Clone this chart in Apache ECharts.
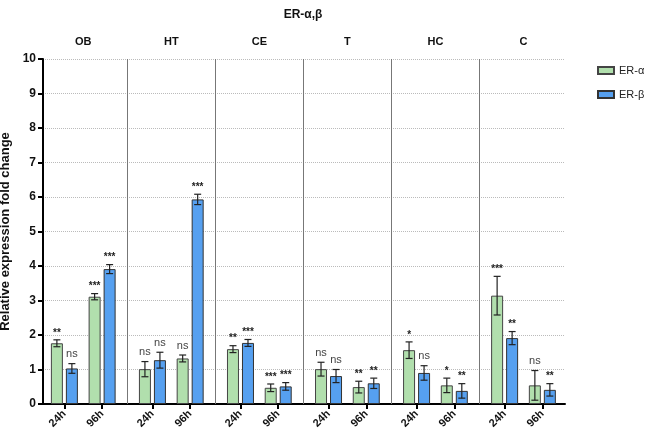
<!DOCTYPE html>
<html>
<head>
<meta charset="utf-8">
<script src="https://cdn.jsdelivr.net/npm/echarts@6/dist/echarts.min.js"></script>
<style>
html,body{margin:0;padding:0;background:#fff;}
#main{width:649px;height:437px;}
</style>
</head>
<body>
<div id="main"></div>
<script>
// groups and time points
var groups = ['OB', 'HT', 'CE', 'T', 'HC', 'C'];
var times = ['24h', '96h'];
// values read in order OB 24h, OB 96h, HT 24h, ...
var alphaMean = [1.76, 3.11, 1.01, 1.32, 1.59, 0.47, 1.01, 0.49, 1.56, 0.54, 3.14, 0.54];
var alphaSd   = [0.10, 0.09, 0.22, 0.10, 0.10, 0.11, 0.20, 0.17, 0.24, 0.21, 0.56, 0.43];
var betaMean  = [1.03, 3.91, 1.27, 5.93, 1.77, 0.51, 0.81, 0.60, 0.90, 0.38, 1.91, 0.41];
var betaSd    = [0.14, 0.13, 0.23, 0.15, 0.10, 0.11, 0.19, 0.15, 0.21, 0.21, 0.19, 0.18];
var alphaSig  = ['**', '***', 'ns', 'ns', '**', '***', 'ns', '**', '*', '*', '***', 'ns'];
var betaSig   = ['ns', '***', 'ns', '***', '***', '***', 'ns', '**', 'ns', '**', '**', '**'];
var yTicks = [0, 1, 2, 3, 4, 5, 6, 7, 8, 9, 10];

var FONT = 'Arial, "Liberation Sans", sans-serif';

// x positions: 7 units per group, 24h at 0, 96h at 3
var pos = [];
var posLabel = [];
groups.forEach(function(g, gi){
	times.forEach(function(t, ti){
		pos.push(gi * 7 + ti * 3);
		posLabel.push(t);
	});
});
var groupCenters = groups.map(function(g, gi){ return gi * 7 + 1.5; });
var separators = groups.slice(1).map(function(g, gi){ return gi * 7 + 5; });

function errItem(offset, sigs){
	return function(params, api){
		var x = api.value(0), y = api.value(1), e = api.value(2);
		var hi = api.coord([x, y + e]);
		var lo = api.coord([x, y - e]);
		var cx = hi[0] + offset;
		var cap = 3.5;
		var st = {stroke: '#222', lineWidth: 1.2};
		var sig = sigs[params.dataIndex];
		var isNs = sig === 'ns';
		return {
			type: 'group',
			children: [
				{type: 'line', shape: {x1: cx, y1: hi[1], x2: cx, y2: lo[1]}, style: st},
				{type: 'line', shape: {x1: cx - cap, y1: hi[1], x2: cx + cap, y2: hi[1]}, style: st},
				{type: 'line', shape: {x1: cx - cap, y1: lo[1], x2: cx + cap, y2: lo[1]}, style: st},
				{type: 'text', style: {
					text: sig, x: cx, y: hi[1] - (isNs ? 4 : 2),
					textAlign: 'center', textVerticalAlign: 'bottom',
					font: (isNs ? 'normal 11px ' : 'bold 10px ') + FONT,
					fill: isNs ? '#444' : '#222'
				}}
			]
		};
	};
}

var myChart = echarts.init(document.getElementById('main'));
var option = {
	animation: false,
	backgroundColor: '#fff',
	textStyle: {fontFamily: FONT},
	graphic: [{
		type: 'text',
		style: {text: 'ER-\u03b1,\u03b2', x: 303, y: 15, textAlign: 'center', textVerticalAlign: 'middle',
			font: 'bold 12px ' + FONT, fill: '#111'}
	}],
	legend: {
		data: ['ER-\u03b1', 'ER-\u03b2'],
		orient: 'vertical',
		left: 592, top: 60,
		icon: 'rect',
		itemWidth: 16, itemHeight: 7,
		itemGap: 13,
		textStyle: {fontSize: 11, color: '#222', fontFamily: FONT}
	},
	grid: {left: 43, right: 84, top: 59, bottom: 33, containLabel: false, outerBoundsMode: 'none'},
	xAxis: [{
		type: 'value',
		min: -1.7, max: 39.8,
		axisLine: {show: true, onZero: false, lineStyle: {color: '#000', width: 2}},
		axisTick: {show: true, customValues: pos, length: 5, lineStyle: {color: '#000', width: 2}},
		axisLabel: {
			customValues: pos, rotate: 45, margin: 8,
			fontSize: 11, fontWeight: 'bold', color: '#111',
			formatter: function(v){ var i = pos.indexOf(Math.round(v)); return i >= 0 ? posLabel[i] : ''; }
		},
		splitLine: {show: false}
	}, {
		type: 'value',
		position: 'top',
		min: -1.7, max: 39.8,
		axisLine: {show: false},
		axisTick: {show: false},
		axisLabel: {
			customValues: groupCenters, margin: 12,
			fontSize: 11, fontWeight: 'bold', color: '#111',
			formatter: function(v){ return groups[Math.round((v - 1.5) / 7)] || ''; }
		},
		splitLine: {show: false}
	}],
	yAxis: {
		type: 'value',
		min: 0, max: 10, interval: 1,
		name: 'Relative expression fold change',
		nameLocation: 'middle',
		nameGap: 24,
		nameTextStyle: {fontSize: 13, fontWeight: 'bold', color: '#111', fontFamily: FONT},
		axisLine: {show: true, onZero: false, lineStyle: {color: '#000', width: 2}},
		axisTick: {show: true, length: 5, lineStyle: {color: '#000', width: 2}},
		axisLabel: {fontSize: 12, fontWeight: 'bold', color: '#111', margin: 7,
			formatter: function(v){ return yTicks.indexOf(v) >= 0 ? String(v) : ''; }},
		splitLine: {show: true, lineStyle: {color: '#bbb', type: 'dotted', width: 1}}
	},
	series: [{
		name: 'ER-\u03b1',
		type: 'bar',
		barWidth: 12,
		barGap: '25%',
		data: pos.map(function(x, i){ return [x, alphaMean[i]]; }),
		itemStyle: {color: '#b1dfad', borderColor: '#444', borderWidth: 1}
	}, {
		name: 'ER-\u03b2',
		type: 'bar',
		barWidth: 12,
		barGap: '25%',
		data: pos.map(function(x, i){ return [x, betaMean[i]]; }),
		itemStyle: {color: '#56a0f0', borderColor: '#333', borderWidth: 1}
	}, {
		type: 'custom',
		renderItem: errItem(-7.5, alphaSig),
		encode: {x: 0, y: 1},
		z: 5,
		data: pos.map(function(x, i){ return [x, alphaMean[i], alphaSd[i]]; }),
		markLine: {
			silent: true,
			symbol: ['none', 'none'],
			label: {show: false},
			lineStyle: {color: '#777', width: 1, type: 'solid'},
			data: separators.map(function(x){ return {xAxis: x}; })
		}
	}, {
		type: 'custom',
		renderItem: errItem(7.5, betaSig),
		encode: {x: 0, y: 1},
		z: 5,
		data: pos.map(function(x, i){ return [x, betaMean[i], betaSd[i]]; })
	}]
};
myChart.setOption(option);
</script>
</body>
</html>
